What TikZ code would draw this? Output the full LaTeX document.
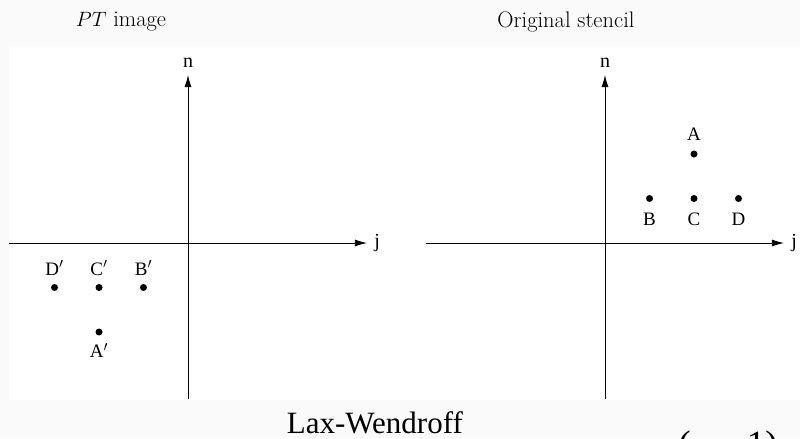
\documentclass[tikz,border=0pt]{standalone}
\usepackage{fontspec}
\newfontfamily\timesfont{Liberation Serif}
\usetikzlibrary{arrows.meta,positioning}
\tikzset{
  dot/.style={circle, fill=black, inner sep=0pt, minimum size=7pt},
  ptlabel/.style={font=\timesfont\fontsize{19}{19}\selectfont, inner sep=0pt, text height=13pt, text depth=0pt},
  axislabel/.style={font=\timesfont\fontsize{20}{20}\selectfont, inner sep=0pt},
  paneltitle/.style={font=\fontsize{22.5}{26}\selectfont, inner sep=0pt},
}
\begin{document}
\begin{tikzpicture}[x=44.5pt, y=44.5pt, >={Latex[length=12pt,width=7pt]}, line width=0.8pt]
  \path[use as bounding box, fill=black!2] (-4.225,-4.382) rectangle (13.753,5.461);
  \fill[white] (-4.02,-3.528) rectangle (13.753,4.404);

  % left panel: PT image
  \node[paneltitle] (titleL) at (-1.506,4.966) {$PT$ image};
  \coordinate (wL) at (-4.02,0);
  \coordinate (eL) at (4.02,0);
  \coordinate (sL) at (0,-3.506);
  \coordinate (nL) at (0,3.775);
  \draw[->] (wL) -- (eL);
  \draw[->] (sL) -- (nL);
  \node[axislabel, right=7pt of eL] (jL) {j};
  \node[axislabel, above=7pt of nL] (nlabL) {n};
  \node[dot] (Dp) at (-3,-1) {};
  \node[dot] (Cp) at (-2,-1) {};
  \node[dot] (Bp) at (-1,-1) {};
  \node[dot] (Ap) at (-2,-2) {};
  \node[ptlabel, above=8pt of Dp] (lDp) {D$'$};
  \node[ptlabel, above=8pt of Cp] (lCp) {C$'$};
  \node[ptlabel, above=8pt of Bp] (lBp) {B$'$};
  \node[ptlabel, below=8pt of Ap] (lAp) {A$'$};

  % right panel: original stencil
  \begin{scope}[shift={(9.371,0)}]
    \node[paneltitle] (titleR) at (-0.877,4.966) {Original stencil};
    \coordinate (wR) at (-4.02,0);
    \coordinate (eR) at (4.02,0);
    \coordinate (sR) at (0,-3.506);
    \coordinate (nR) at (0,3.775);
    \draw[->] (wR) -- (eR);
    \draw[->] (sR) -- (nR);
    \node[axislabel, right=7pt of eR] (jR) {j};
    \node[axislabel, above=7pt of nR] (nlabR) {n};
    \node[dot] (B) at (1,1) {};
    \node[dot] (C) at (2,1) {};
    \node[dot] (D) at (3,1) {};
    \node[dot] (A) at (2,2) {};
    \node[ptlabel, above=9pt of A] (lA) {A};
    \node[ptlabel, below=10pt of B] (lB) {B};
    \node[ptlabel, below=10pt of C] (lC) {C};
    \node[ptlabel, below=10pt of D] (lD) {D};
  \end{scope}

  \node[font=\timesfont\fontsize{31}{31}\selectfont, anchor=base, inner sep=0pt] (scheme) at (4.2,-4.29) {Lax-Wendroff};
  \node[font=\timesfont\fontsize{37}{37}\selectfont, anchor=base west, inner sep=0pt] (cfl) at (11.01,-4.8) {(ν = 1)};
\end{tikzpicture}
\end{document}
